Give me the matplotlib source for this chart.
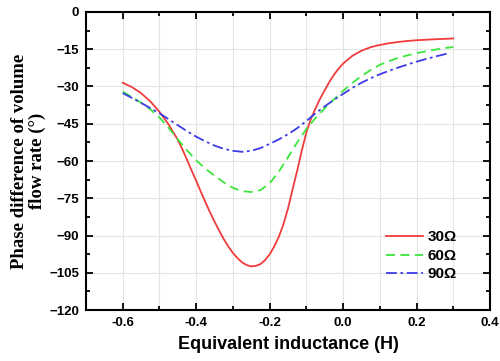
import numpy as np
import matplotlib
matplotlib.use("Agg")
import matplotlib.pyplot as plt
from matplotlib.ticker import MultipleLocator

# equivalent inductance (H)
L = np.round(np.arange(-0.6, 0.3001, 0.025), 4)
L90 = np.append(L[:-1], 0.29)
# finer steps for 30 ohm in the dip
L30 = np.round(np.concatenate([np.arange(-0.6, -0.45, 0.025),
                               np.arange(-0.45, 0.0, 0.0125),
                               np.arange(0.0, 0.3001, 0.025)]), 4)

# phase difference of volume flow rate (deg)
r30 = [-28.5, -30.25, -32.7, -36.0, -40.2, -45.3,
       -51.5, -55.3, -59.5, -63.8, -68.0, -72.3, -76.5, -80.6, -84.4, -88.0,
       -91.4, -94.4, -97.0, -99.1, -100.8, -101.9, -102.4, -102.2, -101.5,
       -99.9, -97.6, -94.4, -90.5, -85.5, -79.1, -71.4, -63.9, -55.8, -48.5,
       -43.0, -38.8, -34.9, -31.5, -28.2, -25.3, -22.9,
       -20.8, -17.7, -15.6, -14.2, -13.3, -12.6, -12.1, -11.7, -11.4, -11.2,
       -11.0, -10.85, -10.7]
r60 = [-32.1, -34.2, -36.6, -39.2, -42.5, -46.7, -51.3, -55.7, -59.7, -63.1,
       -65.9, -68.6, -70.8, -72.1, -72.5, -71.7, -69.0, -64.3, -58.5, -52.5,
       -47.1, -42.7, -38.8, -35.2, -31.8, -28.6, -25.8, -23.4, -21.3, -19.8,
       -18.5, -17.5, -16.6, -15.9, -15.2, -14.6, -14.1]
r90 = [-32.7, -34.6, -36.6, -38.7, -40.8, -43.2, -45.6, -48.0, -50.2, -52.1,
       -53.8, -55.1, -55.9, -56.3, -55.9, -54.8, -53.1, -51.3, -49.2, -46.8,
       -43.9, -40.8, -38.0, -35.4, -33.0, -30.6, -28.5, -26.7, -25.1, -23.7,
       -22.4, -21.2, -20.0, -19.0, -18.0, -17.1, -16.5]

fig = plt.figure(figsize=(5, 3.61), dpi=100)
ax = fig.add_axes([0.172, 0.141, 0.808, 0.826])

ax.plot(L30, r30, color="#f03c3c", lw=1.3, ls="-", label="30Ω")
ax.plot(L, r60, color="#3ce63c", lw=1.3, ls=(0, (5, 3)), label="60Ω")
ax.plot(L90, r90, color="#3c3ce6", lw=1.3, ls=(0, (6, 2, 1.5, 2)), label="90Ω")

ax.set_xlim(-0.7, 0.4)
ax.set_ylim(-120, 0)
ax.xaxis.set_major_locator(MultipleLocator(0.2))
ax.xaxis.set_minor_locator(MultipleLocator(0.1))
ax.yaxis.set_major_locator(MultipleLocator(15))
ax.yaxis.set_minor_locator(MultipleLocator(7.5))
ax.set_xticks([-0.6, -0.4, -0.2, 0.0, 0.2, 0.4])
ax.set_xticklabels(["-0.6", "-0.4", "-0.2", "0.0", "0.2", "0.4"])

ax.grid(True, which="major", color="#e4e4e4", lw=0.8)
ax.grid(True, which="minor", axis="x", color="#e4e4e4", lw=0.8)
ax.set_axisbelow(True)

ax.tick_params(which="both", direction="in", top=True, right=True, width=1.3)
ax.tick_params(which="major", length=5, labelsize=9.5, pad=5)
ax.tick_params(which="minor", length=3)
for lab in ax.get_xticklabels() + ax.get_yticklabels():
    lab.set_fontweight("bold")
    lab.set_fontfamily("Liberation Sans")
for s in ax.spines.values():
    s.set_linewidth(1.5)

ax.set_xlabel("Equivalent inductance (H)", fontsize=13, fontweight="bold",
              family="Liberation Sans", labelpad=5)
ax.set_ylabel("Phase difference of volume\nflow rate (°)", fontsize=13.5,
              fontweight="bold", family="Liberation Serif", labelpad=2,
              linespacing=1.05)

leg = ax.legend(loc="lower right", frameon=False, handlelength=2.4,
                bbox_to_anchor=(0.952, 0.05), labelspacing=0.3, handletextpad=0.3,
                prop={"family": "Liberation Sans", "weight": "bold", "size": 11})

fig.savefig("out.png", dpi=100)
